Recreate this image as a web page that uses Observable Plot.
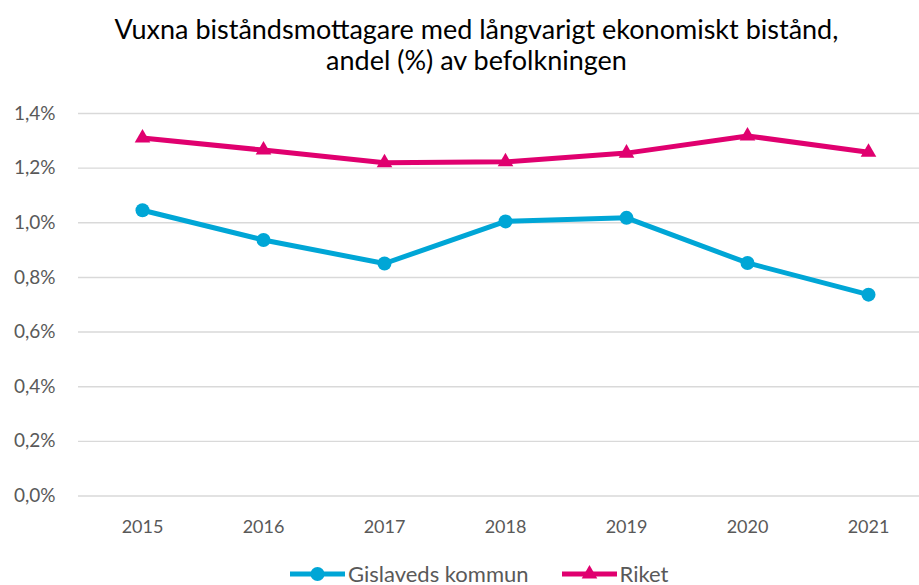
<!DOCTYPE html>
<html>
<head>
<meta charset="utf-8">
<script src="https://cdn.jsdelivr.net/npm/d3@7"></script>
<script src="https://cdn.jsdelivr.net/npm/@observablehq/plot@0.6"></script>
<style>
  html, body { margin: 0; padding: 0; background: #fff; overflow: hidden; }
  body { width: 919px; height: 585px; font-family: Lato, "Open Sans", sans-serif; }
  #title { height: 90px; box-sizing: border-box; padding-top: 13px; padding-left: 34px; text-align: center;
           font-size: 27px; line-height: 31px; color: #000; }
  #chart svg { display: block; }
  #legend { display: flex; justify-content: flex-start; padding-left: 289px; margin-top: 12px; font-size: 22px; line-height: 24px; color: #595959; }
  .item { display: flex; align-items: center; }
  .item svg { display: block; }
</style>
</head>
<body>
<div id="title">Vuxna biståndsmottagare med långvarigt ekonomiskt bistånd,<br>andel (%) av befolkningen</div>
<div id="chart"></div>
<div id="legend"></div>
<script>
const years = ["2015", "2016", "2017", "2018", "2019", "2020", "2021"];
const gislaved = [1.046, 0.937, 0.851, 1.005, 1.018, 0.853, 0.737];
const riket = [1.310, 1.266, 1.220, 1.223, 1.255, 1.318, 1.258];
const yTicks = [0, 0.2, 0.4, 0.6, 0.8, 1.0, 1.2, 1.4];
const seriesNames = ["Gislaveds kommun", "Riket"];
const colors = ["#00A6D6", "#E0006F"];

const gData = years.map((y, i) => ({year: y, value: gislaved[i]}));
const rData = years.map((y, i) => ({year: y, value: riket[i]}));

const H = 460;
const plot = Plot.plot({
  width: 919,
  height: H,
  marginLeft: 78,
  marginRight: 0,
  marginTop: 23,
  marginBottom: H - 405.5,
  style: {fontFamily: "Lato, 'Open Sans', sans-serif", fontSize: "18px", color: "#595959", background: "#fff"},
  x: {type: "point", domain: years, range: [139, 870], padding: 0, label: null},
  y: {domain: [0, 1.4], label: null},
  marks: [
    Plot.ruleY(yTicks, {stroke: "#d9d9d9", strokeWidth: 1.4}),
    Plot.axisY({ticks: yTicks, tickSize: 0, tickPadding: 23, fontSize: 19, fill: "#595959",
      tickFormat: d => d.toFixed(1).replace(".", ",") + "%", label: null}),
    Plot.axisX({tickSize: 0, tickPadding: 24, fontSize: 18, fill: "#595959", label: null}),
    Plot.line(rData, {x: "year", y: "value", stroke: colors[1], strokeWidth: 5}),
    Plot.dot(rData, {x: "year", y: "value", fill: colors[1], symbol: "triangle", r: 5.8}),
    Plot.line(gData, {x: "year", y: "value", stroke: colors[0], strokeWidth: 5}),
    Plot.dot(gData, {x: "year", y: "value", fill: colors[0], r: 7})
  ]
});
document.getElementById("chart").appendChild(plot);

// legend
const legend = document.getElementById("legend");
const sym = [d3.symbol(d3.symbolCircle, Math.PI * 7 * 7)(), d3.symbol(d3.symbolTriangle, Math.PI * 5.8 * 5.8)()];
seriesNames.forEach((name, i) => {
  const item = document.createElement("div");
  item.className = "item";
  item.style.marginRight = i === 0 ? "32px" : "0";
  item.innerHTML = `<svg width="57" height="20"><line x1="1" x2="56" y1="10" y2="10" stroke="${colors[i]}" stroke-width="5"/><path transform="translate(28.5,10)" d="${sym[i]}" fill="${colors[i]}"/></svg><span style="margin-left:2px">${name}</span>`;
  legend.appendChild(item);
});
</script>
</body>
</html>
